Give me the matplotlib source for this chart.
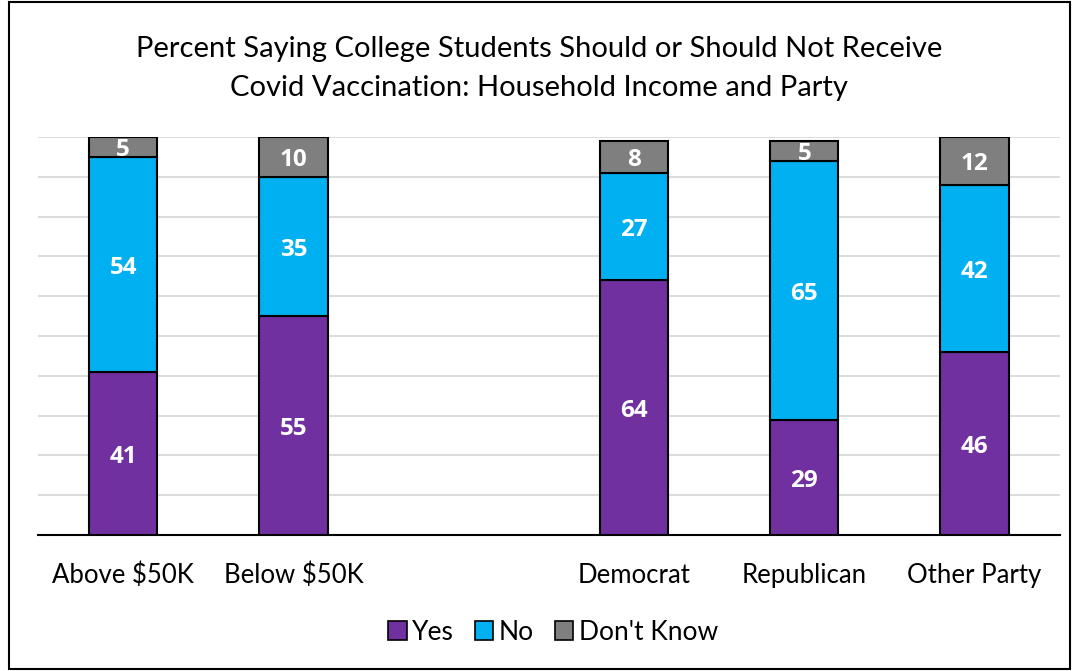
import matplotlib
matplotlib.use('Agg')
import matplotlib.pyplot as plt
from matplotlib.patches import Rectangle, Patch

plt.rcParams['font.family'] = ['Lato', 'DejaVu Sans']

categories = ['Above $50K', 'Below $50K', '', 'Democrat', 'Republican', 'Other Party']
yes = [41, 55, None, 64, 29, 46]
no = [54, 35, None, 27, 65, 42]
dont_know = [5, 10, None, 8, 5, 12]
series_names = ['Yes', 'No', "Don't Know"]
colors = ['#7030A0', '#00B0F0', '#7F7F7F']

fig = plt.figure(figsize=(10.78, 6.71), dpi=100)
ax = fig.add_axes([0.0353, 0.2027, 0.9477, 0.5931])

idx = [i for i, v in enumerate(yes) if v is not None]
bottom = [0] * len(idx)
for vals, color in zip([yes, no, dont_know], colors):
    v = [vals[i] for i in idx]
    bars = ax.bar(idx, v, width=0.4, bottom=bottom, color=color,
                  edgecolor='black', linewidth=1.5, zorder=3)
    for b, val, btm in zip(bars, v, bottom):
        ax.annotate(str(val), (b.get_x() + b.get_width() / 2, btm + val / 2),
                    xytext=(0, -2.5), textcoords='offset points',
                    ha='center', va='center', color='white', fontsize=17.5,
                    fontweight='bold', family=['Open Sans', 'DejaVu Sans'], zorder=4)
    bottom = [a + c for a, c in zip(bottom, v)]

ax.set_xlim(-0.5, 5.5)
ax.set_ylim(0, 100)
ax.set_yticks(range(0, 101, 10))
ax.yaxis.grid(True, color='#D9D9D9', linewidth=1.3, zorder=0)
ax.tick_params(axis='y', left=False, labelleft=False)
ax.set_xticks(idx)
ax.set_xticklabels([categories[i] for i in idx], fontsize=18.5)
ax.tick_params(axis='x', length=0, pad=20)
for s in ['top', 'right', 'left']:
    ax.spines[s].set_visible(False)
ax.spines['bottom'].set_linewidth(1.5)

fig.text(0.5, 0.898, 'Percent Saying College Students Should or Should Not Receive\n'
         'Covid Vaccination: Household Income and Party',
         ha='center', va='center', fontsize=21, linespacing=1.6)

handles = [Patch(facecolor=c, edgecolor='black', linewidth=1.2) for c in colors]
fig.legend(handles, series_names, loc='center', bbox_to_anchor=(0.513, 0.058),
           ncol=3, frameon=False, fontsize=19, handlelength=0.7,
           handleheight=0.7, handletextpad=0.2, columnspacing=0.8)

fig.patches.append(Rectangle((0.008, 0.003), 0.985, 0.994, transform=fig.transFigure,
                             fill=False, edgecolor='black', linewidth=1.5))

fig.savefig('out.png', dpi=100)
